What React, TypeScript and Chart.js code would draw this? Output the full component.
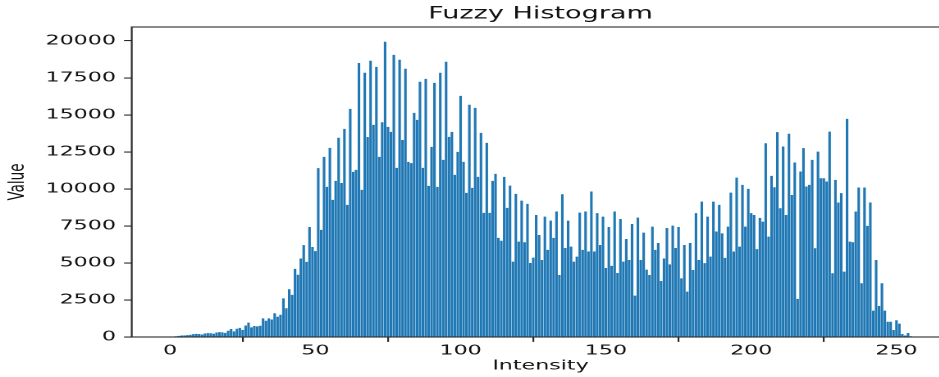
import React, { useEffect, useRef } from "react";
import { Chart, registerables } from "chart.js";

Chart.register(...registerables);

// Intensity bins 0..255 (category axis)
const intensity: number[] = Array.from({ length: 256 }, (_, i) => i);

// Histogram values, one per intensity bin
const counts: number[] = [
  0, 30, 50, 80, 100, 110, 130, 150, 190, 210,
  200, 170, 240, 260, 250, 220, 300, 330, 310, 280,
  420, 540, 380, 560, 620, 480, 780, 970, 650, 740,
  720, 760, 1260, 1100, 1260, 1180, 1600, 1370, 1500, 2610,
  1940, 3220, 2840, 4600, 4200, 5300, 6200, 5070, 7430, 6080,
  5800, 11400, 7230, 12160, 10140, 12770, 9260, 10540, 13450, 10400,
  14050, 8920, 15400, 11150, 11280, 18500, 9930, 17840, 13500, 18650,
  14320, 18240, 12160, 14500, 19930, 14190, 13850, 19050, 11420, 18720,
  13300, 18110, 11820, 11740, 15130, 14660, 17230, 11420, 17430, 10200,
  12840, 17160, 10140, 17840, 11960, 18580, 13510, 13850, 10950, 12500,
  16280, 11820, 9730, 15680, 10070, 15470, 10810, 13780, 8380, 13110,
  8380, 10540, 11010, 6690, 6500, 10810, 8720, 10220, 5090, 9660,
  6440, 9210, 6400, 8990, 5000, 5360, 8240, 6890, 5200, 8130,
  5880, 7860, 6690, 8470, 4190, 9640, 6010, 7860, 6100, 5090,
  5430, 8400, 5880, 8470, 5770, 9820, 5770, 8360, 6210, 8130,
  4660, 7430, 4800, 8470, 4320, 7970, 5090, 6620, 5200, 7630,
  2790, 8060, 5200, 7050, 4550, 4190, 7450, 5880, 6350, 3780,
  5300, 7360, 4900, 7520, 6010, 7430, 3960, 6210, 3060, 6350,
  4520, 8360, 5200, 9140, 4990, 8130, 5430, 9140, 7120, 8920,
  7000, 5340, 7450, 9750, 5770, 10760, 6100, 10270, 7450, 10000,
  8360, 8240, 5930, 8040, 7790, 13080, 6780, 10880, 10110, 13830,
  8690, 12860, 8240, 13720, 9590, 11780, 2570, 11170, 12750, 10160,
  10270, 11960, 5990, 12520, 10720, 10720, 10500, 13870, 4300, 10610,
  9080, 9710, 4410, 14730, 6440, 6400, 8470, 10090, 3630, 10090,
  7500, 9080, 1780, 5200, 2090, 3630, 1780, 1030, 1030, 470,
  1130, 900, 200, 100, 270, 50,
];

const xTicks: number[] = [0, 50, 100, 150, 200, 250];
const yTicks: number[] = [0, 2500, 5000, 7500, 10000, 12500, 15000, 17500, 20000];

const titleText = "Fuzzy Histogram";
const xLabel = "Intensity";
const yLabel = "Value";

// The reference figure is horizontally stretched; render narrower and stretch with CSS.
const STRETCH = 1.64;
const CW = 590;
const CH = 377;

const FONT = "'DejaVu Sans', 'Liberation Sans', sans-serif";
const AXIS_COLOR = "#2a2a2a";
const TEXT_COLOR = "#111111";
const BAR_COLOR = "#1f77b4";

const framePlugin = {
  id: "frame",
  afterDraw(chart: any) {
    const { ctx, chartArea } = chart;
    const { left, top, right, bottom } = chartArea;
    ctx.save();
    ctx.strokeStyle = AXIS_COLOR;
    ctx.lineWidth = 1.1;
    ctx.strokeRect(left, top, right - left, bottom - top);
    ctx.restore();
  },
};

export default function App() {
  const canvasRef = useRef<HTMLCanvasElement | null>(null);

  useEffect(() => {
    const canvas = canvasRef.current;
    if (!canvas) return;
    const chart = new Chart(canvas, {
      type: "bar",
      data: {
        datasets: [
          {
            label: "Histogram",
            data: intensity.map((x, i) => ({ x, y: counts[i] })),
            backgroundColor: BAR_COLOR,
            borderWidth: 0,
            barPercentage: 0.88,
            categoryPercentage: 1.0,
          },
        ],
      },
      options: {
        responsive: false,
        animation: false,
        devicePixelRatio: 2,
        layout: { padding: { left: 0, right: 11.4, top: 0, bottom: 0 } },
        plugins: {
          legend: { display: false },
          tooltip: { enabled: false },
          title: {
            display: true,
            text: titleText,
            fullSize: false,
            color: TEXT_COLOR,
            font: { family: FONT, size: 16.5, weight: "normal", lineHeight: 1.2 },
            padding: { top: 4.1, bottom: 3.1 },
          },
        },
        scales: {
          x: {
            type: "linear",
            min: -13.19,
            max: 268.19,
            offset: false,
            afterBuildTicks: (axis: any) => {
              axis.ticks = xTicks.map((v) => ({ value: v }));
            },
            afterFit: (axis: any) => {
              axis.height = 40;
            },
            grid: {
              drawOnChartArea: false,
              drawTicks: true,
              tickLength: 4.9,
              color: AXIS_COLOR,
              lineWidth: 1.1,
            },
            border: { display: false },
            ticks: {
              color: TEXT_COLOR,
              padding: 0.9,
              maxRotation: 0,
              autoSkip: false,
              font: { family: FONT, size: 13.5, lineHeight: 1.2 },
              callback: (v: any) => String(v),
            },
            title: {
              display: true,
              text: xLabel,
              color: TEXT_COLOR,
              font: { family: FONT, size: 13.5, lineHeight: 1.2 },
              padding: { top: 0, bottom: 2.8 },
            },
          },
          y: {
            type: "linear",
            min: 0,
            max: 20930,
            afterBuildTicks: (axis: any) => {
              axis.ticks = yTicks.map((v) => ({ value: v }));
            },
            afterFit: (axis: any) => {
              axis.width = 80.3;
            },
            grid: {
              drawOnChartArea: false,
              drawTicks: true,
              tickLength: 4.7,
              color: AXIS_COLOR,
              lineWidth: 1.1,
            },
            border: { display: false },
            ticks: {
              color: TEXT_COLOR,
              padding: 4.9,
              autoSkip: false,
              font: { family: FONT, size: 13.5, lineHeight: 1.2 },
              callback: (v: any) => String(v),
            },
            title: {
              display: true,
              text: yLabel,
              color: TEXT_COLOR,
              font: { family: FONT, size: 13.5, lineHeight: 1.2 },
              padding: { top: 3, bottom: 0 },
            },
          },
        },
      },
      plugins: [framePlugin],
    } as any);
    return () => {
      chart.destroy();
    };
  }, []);

  return (
    <div
      style={{
        position: "fixed",
        left: 0,
        top: 0,
        width: 939,
        height: 377,
        overflow: "hidden",
        background: "#ffffff",
      }}
    >
      <canvas
        ref={canvasRef}
        width={CW}
        height={CH}
        style={{ display: "block", width: `${CW * STRETCH}px`, height: `${CH}px` }}
      />
    </div>
  );
}
